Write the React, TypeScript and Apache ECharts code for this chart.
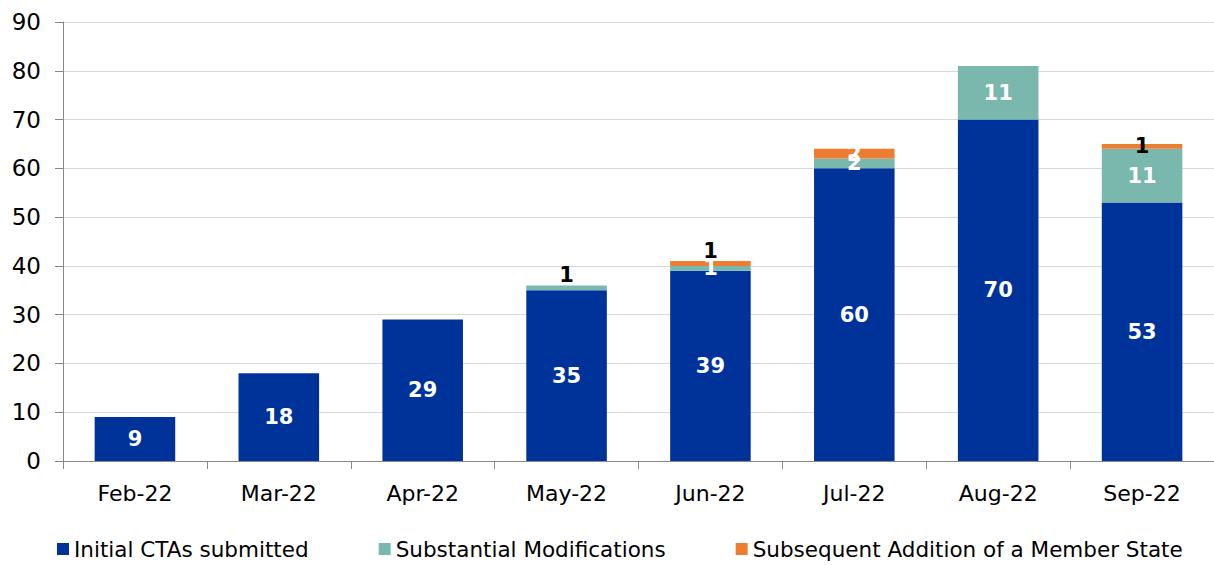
import React, { useEffect, useRef } from "react";
import * as echarts from "echarts";

const categories = ["Feb-22", "Mar-22", "Apr-22", "May-22", "Jun-22", "Jul-22", "Aug-22", "Sep-22"];
const initialCTAs = [9, 18, 29, 35, 39, 60, 70, 53];
const substantialMods = [null, null, null, 1, 1, 2, 11, 11];
const subsequentAddition = [null, null, null, null, 1, 2, null, 1];
const yTicks = [0, 10, 20, 30, 40, 50, 60, 70, 80, 90];

const FONT = "DejaVu Sans";

export default function App() {
  const ref = useRef<HTMLDivElement>(null);
  useEffect(() => {
    const chart = echarts.init(ref.current!, null, { renderer: "svg" });
    const labelBase = { show: true, fontFamily: FONT, fontWeight: "bold", fontSize: 21, color: "#fff" };
    const tealData = substantialMods.map((v, i) => {
      if (v === null) return null;
      if (i === 3) return { value: v, label: { position: "top", color: "#000", distance: 0 } };
      return { value: v };
    });
    const orangeData = subsequentAddition.map((v, i) => {
      if (v === null) return null;
      if (i === 4) return { value: v, label: { position: "top", color: "#000", distance: 0 } };
      if (i === 7) return { value: v, label: { position: "inside", color: "#000" } };
      return { value: v };
    });
    chart.setOption({
      animation: false,
      grid: { left: 63, right: 0, top: 22, bottom: 104 },
      legend: {
        bottom: 0,
        left: 52,
        itemWidth: 12,
        itemHeight: 12,
        itemGap: 70,
        icon: "rect",
        textStyle: { fontFamily: FONT, fontSize: 21.5, color: "#000" },
        data: ["Initial CTAs submitted", "Substantial Modifications", "Subsequent Addition of a Member State"],
      },
      xAxis: {
        type: "category",
        data: categories,
        axisLine: { lineStyle: { color: "#888" } },
        axisTick: { show: true, length: 8, lineStyle: { color: "#888" } },
        axisLabel: { fontFamily: FONT, fontSize: 22, color: "#000", margin: 21 },
      },
      yAxis: {
        type: "value",
        min: yTicks[0],
        max: yTicks[yTicks.length - 1],
        interval: 10,
        axisLine: { show: true, lineStyle: { color: "#888" } },
        axisTick: { show: true, length: 8, lineStyle: { color: "#888" } },
        axisLabel: { fontFamily: FONT, fontSize: 23, color: "#000", margin: 22 },
        splitLine: { lineStyle: { color: "#d9d9d9" } },
      },
      series: [
        {
          name: "Initial CTAs submitted",
          type: "bar",
          stack: "a",
          barWidth: "56%",
          data: initialCTAs,
          itemStyle: { color: "#003399" },
          label: { ...labelBase, position: "inside" },
        },
        {
          name: "Substantial Modifications",
          type: "bar",
          stack: "a",
          data: tealData,
          itemStyle: { color: "#7ab8ae" },
          label: { ...labelBase, position: "inside" },
        },
        {
          name: "Subsequent Addition of a Member State",
          type: "bar",
          stack: "a",
          data: orangeData,
          itemStyle: { color: "#ed7d31" },
          label: { ...labelBase, position: "inside" },
        },
      ],
    });
    return () => chart.dispose();
  }, []);
  return <div ref={ref} style={{ width: 1214, height: 565, position: "absolute", left: 0, top: 0 }} />;
}
